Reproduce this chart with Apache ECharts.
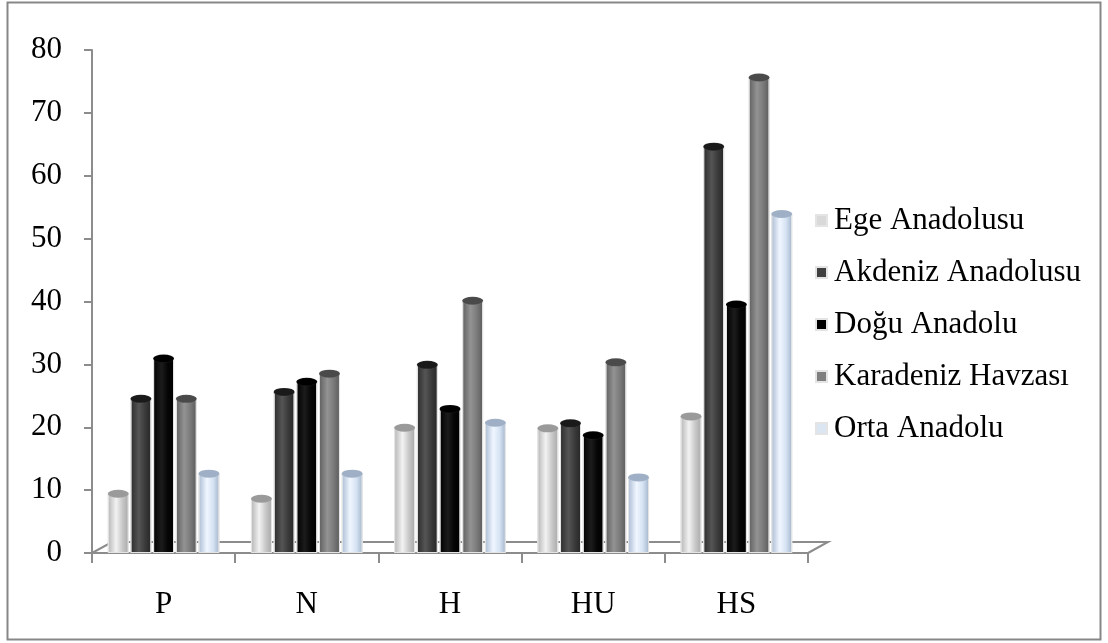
<!DOCTYPE html>
<html>
<head>
<meta charset="utf-8">
<script src="https://cdn.jsdelivr.net/npm/echarts@6/dist/echarts.min.js"></script>
<style>
html,body{margin:0;padding:0;background:#fff;}
#chart{width:1108px;height:643px;}
</style>
</head>
<body>
<div id="chart"></div>
<script>
var categories = ['P', 'N', 'H', 'HU', 'HS'];
var seriesNames = ['Ege Anadolusu', 'Akdeniz Anadolusu', 'Doğu Anadolu', 'Karadeniz Havzası', 'Orta Anadolu'];
var egeValues = [9.5, 8.7, 20.0, 19.9, 21.8];
var akdenizValues = [24.6, 25.7, 30.0, 20.7, 64.7];
var doguValues = [31.0, 27.3, 23.0, 18.8, 39.6];
var karadenizValues = [24.6, 28.6, 40.2, 30.4, 75.7];
var ortaValues = [12.7, 12.7, 20.8, 12.1, 54.0];
var yTicks = {min: 0, max: 80, interval: 10};

var allValues = [egeValues, akdenizValues, doguValues, karadenizValues, ortaValues];
var FONT = "'Liberation Serif', 'Times New Roman', serif";
var legendColors = ['#d9d9d9', '#404040', '#000000', '#7f7f7f', '#dce6f2'];
var bodyStops = [
  ['#b5b5b5', '#f2f2f2', '#c8c8c8', '#a8a8a8'],
  ['#2b2b2b', '#555555', '#3a3a3a', '#262626'],
  ['#000000', '#1c1c1c', '#050505', '#000000'],
  ['#5e5e5e', '#939393', '#7a7a7a', '#5a5a5a'],
  ['#a9bbd2', '#f0f6ff', '#d6e3f3', '#a3b5cc']
];
var topColors = ['#9a9a9a', '#1a1a1a', '#000000', '#4a4a4a', '#9fb0c6'];
var BW = 21, GAP = '8%';

function grad(s) {
  return new echarts.graphic.LinearGradient(0, 0, 1, 0, [
    {offset: 0, color: s[0]}, {offset: 0.4, color: s[1]},
    {offset: 0.7, color: s[2]}, {offset: 1, color: s[3]}
  ]);
}

var series = [];
seriesNames.forEach(function (n, i) {
  series.push({
    type: 'bar', name: n, data: allValues[i], barWidth: BW, barGap: GAP,
    itemStyle: {color: grad(bodyStops[i]), borderColor: '#e4e4e4', borderWidth: 1},
    z: 2
  });
});
seriesNames.forEach(function (n, i) {
  series.push({
    type: 'pictorialBar', name: n, data: allValues[i], barWidth: BW, barGap: GAP,
    symbol: 'circle', symbolSize: [BW, 8], symbolPosition: 'end', symbolOffset: [0, '-50%'],
    itemStyle: {color: topColors[i], borderColor: '#ffffff', borderWidth: 1.6},
    z: 3
  });
});

var chart = echarts.init(document.getElementById('chart'));
chart.setOption({
  animation: false,
  backgroundColor: '#ffffff',
  grid: {left: 92, right: 300, top: 50, bottom: 90, containLabel: false},
  legend: {
    orient: 'vertical', left: 810, top: 200, itemGap: 21,
    itemWidth: 11, itemHeight: 11, icon: 'rect',
    textStyle: {fontFamily: FONT, fontSize: 31, color: '#000', padding: [0, 0, 0, 2]},
    data: seriesNames.map(function (n, i) { return {name: n, itemStyle: {color: legendColors[i]}}; })
  },
  xAxis: {
    type: 'category', data: categories,
    axisLine: {lineStyle: {color: '#8c8c8c', width: 2}},
    axisTick: {show: true, length: 10, interval: 0, lineStyle: {color: '#8c8c8c', width: 2}},
    axisLabel: {fontFamily: FONT, fontSize: 31, color: '#000', margin: 36}
  },
  yAxis: {
    type: 'value', min: yTicks.min, max: yTicks.max, interval: yTicks.interval,
    axisLine: {show: true, lineStyle: {color: '#8c8c8c', width: 2}},
    axisTick: {show: true, length: 8, lineStyle: {color: '#8c8c8c', width: 2}},
    splitLine: {show: false},
    axisLabel: {fontFamily: FONT, fontSize: 31, color: '#000', margin: 30}
  },
  series: series
});

// 3D floor outline and outer frame, positioned from the axis scales
var p0 = chart.convertToPixel({gridIndex: 0}, [0, 0]);
var grid = chart.getModel().getComponent('grid', 0).coordinateSystem.getRect();
var dx = 20, dy = 11;
var x0 = grid.x, x1 = grid.x + grid.width, yb = p0[1];
chart.setOption({
  graphic: [
    {type: 'polyline', z: 1, silent: true,
     shape: {points: [[x0, yb], [x0 + dx, yb - dy], [x1 + dx, yb - dy], [x1, yb]]},
     style: {stroke: '#8c8c8c', lineWidth: 2, fill: null}},
    {type: 'rect', z: 0, silent: true,
     shape: {x: 7.5, y: 2.5, width: 1093, height: 637},
     style: {stroke: '#878787', lineWidth: 2, fill: null}}
  ]
});
</script>
</body>
</html>
